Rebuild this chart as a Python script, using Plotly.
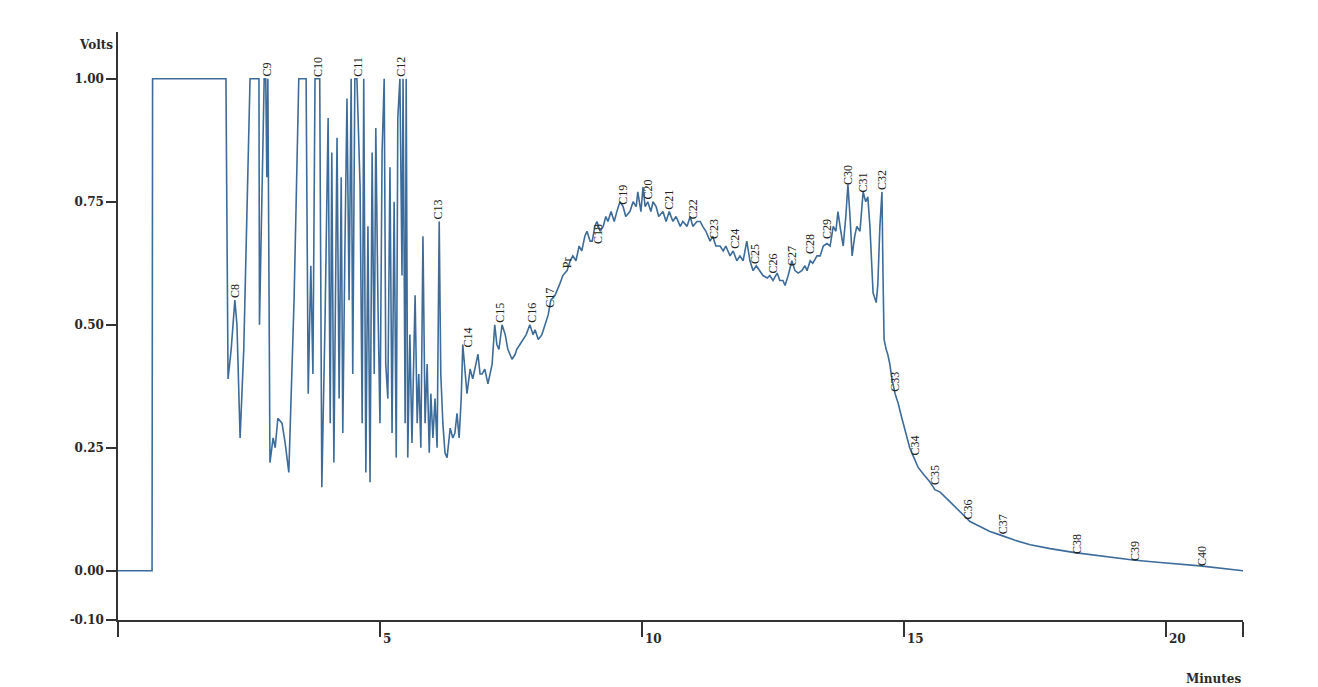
import plotly.graph_objects as go

# Chromatogram trace (minutes, volts)
times = [
    0.00, 0.65, 0.66, 2.06, 2.10, 2.16, 2.23, 2.27, 2.33, 2.40, 2.52, 2.69, 2.70, 2.75, 2.79, 2.82, 2.84, 2.86, 2.88, 2.90,
    2.96, 3.00, 3.05, 3.13, 3.19, 3.26, 3.36, 3.45, 3.59, 3.63, 3.68, 3.72, 3.76, 3.85, 3.89, 3.95, 4.01, 4.05, 4.08, 4.12,
    4.18, 4.22, 4.26, 4.29, 4.33, 4.37, 4.41, 4.45, 4.48, 4.52, 4.56, 4.62, 4.66, 4.69, 4.73, 4.77, 4.81, 4.85, 4.89, 4.92,
    4.96, 5.00, 5.04, 5.08, 5.11, 5.15, 5.19, 5.23, 5.27, 5.31, 5.34, 5.38, 5.42, 5.44, 5.48, 5.50, 5.53, 5.57, 5.61, 5.67,
    5.71, 5.74, 5.78, 5.82, 5.86, 5.90, 5.94, 5.97, 6.01, 6.05, 6.09, 6.13, 6.16, 6.20, 6.24, 6.28, 6.34, 6.39, 6.43, 6.47,
    6.51, 6.55, 6.58, 6.62, 6.66, 6.72, 6.77, 6.83, 6.87, 6.91, 6.95, 7.00, 7.06, 7.14, 7.19, 7.23, 7.27, 7.33, 7.39, 7.44,
    7.52, 7.58, 7.61, 7.67, 7.73, 7.79, 7.86, 7.92, 7.96, 8.02, 8.09, 8.15, 8.21, 8.26, 8.34, 8.42, 8.49, 8.57, 8.63, 8.68,
    8.74, 8.80, 8.85, 8.91, 8.95, 9.01, 9.05, 9.10, 9.14, 9.20, 9.26, 9.31, 9.35, 9.41, 9.47, 9.52, 9.58, 9.64, 9.69, 9.77,
    9.83, 9.89, 9.92, 9.98, 10.02, 10.06, 10.11, 10.17, 10.21, 10.27, 10.32, 10.40, 10.46, 10.52, 10.59, 10.65, 10.73, 10.78, 10.86, 10.92,
    10.97, 11.05, 11.11, 11.16, 11.22, 11.30, 11.35, 11.41, 11.49, 11.55, 11.60, 11.68, 11.74, 11.81, 11.87, 11.93, 12.00, 12.06, 12.12, 12.18,
    12.25, 12.31, 12.39, 12.44, 12.50, 12.58, 12.63, 12.69, 12.73, 12.79, 12.86, 12.92, 12.98, 13.05, 13.11, 13.15, 13.21, 13.26, 13.34, 13.40,
    13.46, 13.53, 13.59, 13.65, 13.70, 13.74, 13.78, 13.84, 13.89, 13.93, 13.97, 14.01, 14.06, 14.10, 14.16, 14.22, 14.27, 14.31, 14.35, 14.41,
    14.47, 14.50, 14.54, 14.58, 14.60, 14.62, 14.66, 14.69, 14.73, 14.77, 14.83, 14.89, 14.96, 15.04, 15.11, 15.19, 15.27, 15.38, 15.50, 15.59,
    15.69, 15.88, 16.07, 16.26, 16.45, 16.64, 16.83, 17.12, 17.41, 17.79, 18.26, 18.74, 19.37, 19.89, 20.65, 21.47,
]
volts = [
    0.00, 0.00, 1.00, 1.00, 0.39, 0.45, 0.55, 0.50, 0.27, 0.45, 1.00, 1.00, 0.50, 0.75, 1.00, 1.00, 0.80, 1.00, 0.55, 0.22,
    0.27, 0.25, 0.31, 0.30, 0.26, 0.20, 0.55, 1.00, 1.00, 0.36, 0.62, 0.40, 1.00, 1.00, 0.17, 0.50, 0.92, 0.30, 0.85, 0.22,
    0.88, 0.35, 0.80, 0.28, 0.65, 0.96, 0.55, 1.00, 0.40, 1.00, 1.00, 0.78, 0.30, 1.00, 0.20, 0.70, 0.18, 0.85, 0.40, 0.90,
    0.55, 0.30, 0.85, 1.00, 0.42, 0.35, 0.82, 0.28, 0.75, 0.23, 0.92, 1.00, 0.60, 1.00, 0.30, 1.00, 0.23, 0.48, 0.26, 0.56,
    0.30, 0.40, 0.25, 0.68, 0.30, 0.42, 0.24, 0.36, 0.27, 0.35, 0.25, 0.71, 0.40, 0.30, 0.24, 0.23, 0.29, 0.27, 0.28, 0.32,
    0.27, 0.35, 0.46, 0.40, 0.36, 0.41, 0.39, 0.42, 0.44, 0.40, 0.40, 0.41, 0.38, 0.42, 0.50, 0.46, 0.45, 0.50, 0.48, 0.45,
    0.43, 0.44, 0.45, 0.46, 0.47, 0.48, 0.50, 0.48, 0.49, 0.47, 0.48, 0.50, 0.52, 0.55, 0.56, 0.58, 0.60, 0.61, 0.63, 0.64,
    0.63, 0.66, 0.65, 0.68, 0.69, 0.67, 0.67, 0.70, 0.71, 0.69, 0.70, 0.72, 0.71, 0.73, 0.71, 0.73, 0.75, 0.74, 0.72, 0.73,
    0.75, 0.74, 0.77, 0.73, 0.78, 0.74, 0.75, 0.73, 0.75, 0.74, 0.72, 0.73, 0.71, 0.73, 0.71, 0.72, 0.70, 0.71, 0.70, 0.72,
    0.70, 0.71, 0.71, 0.70, 0.69, 0.67, 0.68, 0.66, 0.66, 0.65, 0.66, 0.64, 0.65, 0.63, 0.64, 0.63, 0.67, 0.63, 0.61, 0.62,
    0.61, 0.60, 0.595, 0.60, 0.59, 0.605, 0.59, 0.59, 0.58, 0.60, 0.63, 0.61, 0.605, 0.61, 0.62, 0.61, 0.63, 0.625, 0.64, 0.64,
    0.66, 0.665, 0.66, 0.70, 0.69, 0.73, 0.70, 0.66, 0.72, 0.785, 0.72, 0.64, 0.68, 0.70, 0.69, 0.77, 0.75, 0.76, 0.70, 0.565,
    0.545, 0.58, 0.70, 0.77, 0.60, 0.47, 0.45, 0.44, 0.42, 0.39, 0.36, 0.34, 0.31, 0.28, 0.25, 0.23, 0.21, 0.195, 0.18, 0.165,
    0.16, 0.14, 0.12, 0.10, 0.09, 0.08, 0.073, 0.062, 0.053, 0.045, 0.037, 0.030, 0.022, 0.017, 0.010, 0.0,
]

# Peak labels
peak_names = ["C8", "C9", "C10", "C11", "C12", "C13", "C14", "C15", "C16", "C17", "Pr", "C18", "C19", "C20",
              "C21", "C22", "C23", "C24", "C25", "C26", "C27", "C28", "C29", "C30", "C31", "C32", "C33", "C34",
              "C35", "C36", "C37", "C38", "C39", "C40"]
peak_times = [2.23, 2.84, 3.82, 4.58, 5.40, 6.11, 6.68, 7.29, 7.90, 8.24, 8.57, 9.16, 9.64, 10.11,
              10.50, 10.99, 11.37, 11.77, 12.16, 12.50, 12.86, 13.21, 13.53, 13.93, 14.22, 14.58, 14.83, 15.21,
              15.59, 16.22, 16.89, 18.30, 19.41, 20.69]
peak_label_volts = [0.55, 1.00, 1.00, 1.00, 1.00, 0.71, 0.45, 0.50, 0.50, 0.53, 0.61, 0.66, 0.74, 0.75,
                    0.73, 0.71, 0.67, 0.65, 0.62, 0.60, 0.615, 0.64, 0.67, 0.78, 0.765, 0.77, 0.36, 0.23,
                    0.17, 0.10, 0.07, 0.03, 0.016, 0.006]

x_ticks = [0, 5, 10, 15, 20, 21.47]
x_labeled = [5, 10, 15, 20]
y_ticks = [-0.10, 0.0, 0.25, 0.50, 0.75, 1.00]
y_ticktext = ["-0.10", "0.00", "0.25", "0.50", "0.75", "1.00"]

LINE = "#3d6c9b"
AX = "#333333"
BOLD_FONT = dict(family="DejaVu Serif", size=12, color="#2a2a2a", weight="bold")

fig = go.Figure()
fig.add_trace(go.Scatter(x=times, y=volts, mode="lines",
                         line=dict(color=LINE, width=1.6), showlegend=False))

annotations = []
for name, t, v in zip(peak_names, peak_times, peak_label_volts):
    annotations.append(dict(x=t, y=v, xref="x", yref="y", text=name, showarrow=False,
                            textangle=-90, xanchor="center", yanchor="bottom",
                            font=dict(family="Liberation Serif", size=12, color="#222222")))
for xv in x_labeled:
    annotations.append(dict(x=xv, y=0, xref="x", yref="paper", text=str(xv), showarrow=False,
                            xanchor="left", yanchor="top", xshift=1, yshift=-10, font=BOLD_FONT))
annotations.append(dict(x=0, y=1, xref="paper", yref="paper", text="Volts", showarrow=False,
                        xanchor="right", yanchor="middle", xshift=-3, yshift=-13, font=BOLD_FONT))
annotations.append(dict(x=1, y=0, xref="paper", yref="paper", text="Minutes", showarrow=False,
                        xanchor="right", yanchor="middle", yshift=-59, font=BOLD_FONT))

# The page body has an 8px margin, so the figure is sized to fit inside the window.
fig.update_layout(
    width=1310, height=679,
    margin=dict(l=110, r=75, t=24, b=67),
    paper_bgcolor="white", plot_bgcolor="white",
    annotations=annotations,
    xaxis=dict(range=[0, 21.47], showgrid=False, zeroline=False, showline=True,
               linecolor=AX, linewidth=1.5, ticks="outside", ticklen=15, tickwidth=1.5,
               tickcolor=AX, tickvals=x_ticks, showticklabels=False),
    yaxis=dict(range=[-0.10, 1.095], showgrid=False, zeroline=False, showline=True,
               linecolor=AX, linewidth=1.5, ticks="outside", ticklen=10, tickwidth=1.5,
               tickcolor=AX, tickvals=y_ticks, ticktext=y_ticktext, tickfont=BOLD_FONT,
               ticklabelstandoff=0),
)

fig.write_html("out.html")
